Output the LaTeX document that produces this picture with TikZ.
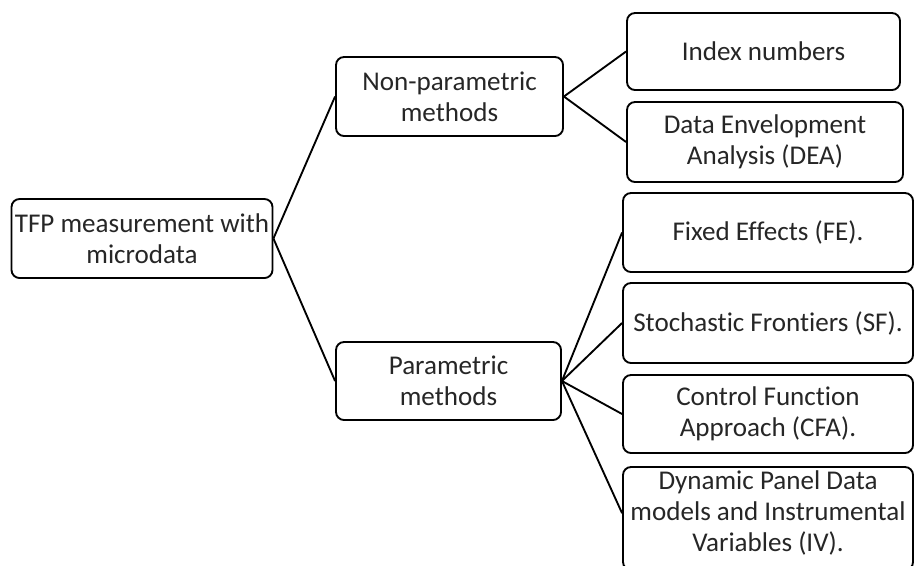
\documentclass[tikz,border=0pt]{standalone}
\usepackage{fontspec}
\setmainfont{Carlito}[Ligatures={NoCommon}]
\usepackage{tikz}

\begin{document}
\begin{tikzpicture}[x=0.75pt, y=-0.75pt,
  box/.style={draw, line width=1.4pt, rounded corners=6pt, align=center,
    inner sep=0pt, text=black!85, font=\fontsize{20.3}{23}\selectfont},
  link/.style={line width=1.4pt}]

\clip (0,0) rectangle (914,565);

\node[box, minimum width=195.75pt, minimum height=59.25pt] (tfp) at (142,238.5) {TFP measurement with\\microdata};

\node[box, minimum width=170.25pt, minimum height=59.25pt] (nonpar) at (449.5,96.5) {Non-parametric\\methods};
\node[box, minimum width=168.75pt, minimum height=58.5pt] (par) at (448.5,381) {Parametric\\methods};

\node[box, minimum width=204.75pt, minimum height=57.75pt] (index) at (763.5,51.5) {Index numbers};
\node[box, minimum width=207pt, minimum height=60pt] (dea) at (765,142) {Data Envelopment\\Analysis (DEA)};

\node[box, minimum width=217.5pt, minimum height=59.25pt] (fe) at (768,232.5) {Fixed Effects (FE).};
\node[box, minimum width=217.5pt, minimum height=60pt] (sf) at (768,323) {Stochastic Frontiers (SF).};
\node[box, minimum width=217.5pt, minimum height=58.5pt] (cfa) at (768,414) {Control Function\\Approach (CFA).};
\node[box, minimum width=217.5pt, minimum height=77.25pt, text depth=11pt] (dpd) at (768,518.5) {Dynamic Panel Data\\models and Instrumental\\Variables (IV).};

\draw[link] (tfp.east) -- (nonpar.west);
\draw[link] (tfp.east) -- (par.west);

\draw[link] (nonpar.east) -- (index.west);
\draw[link] (nonpar.east) -- (dea.west);

\draw[link] (par.east) -- (fe.west);
\draw[link] (par.east) -- (sf.west);
\draw[link] (par.east) -- (cfa.west);
\draw[link] (par.east) -- ([yshift=4pt]dpd.west);
\end{tikzpicture}
\end{document}
